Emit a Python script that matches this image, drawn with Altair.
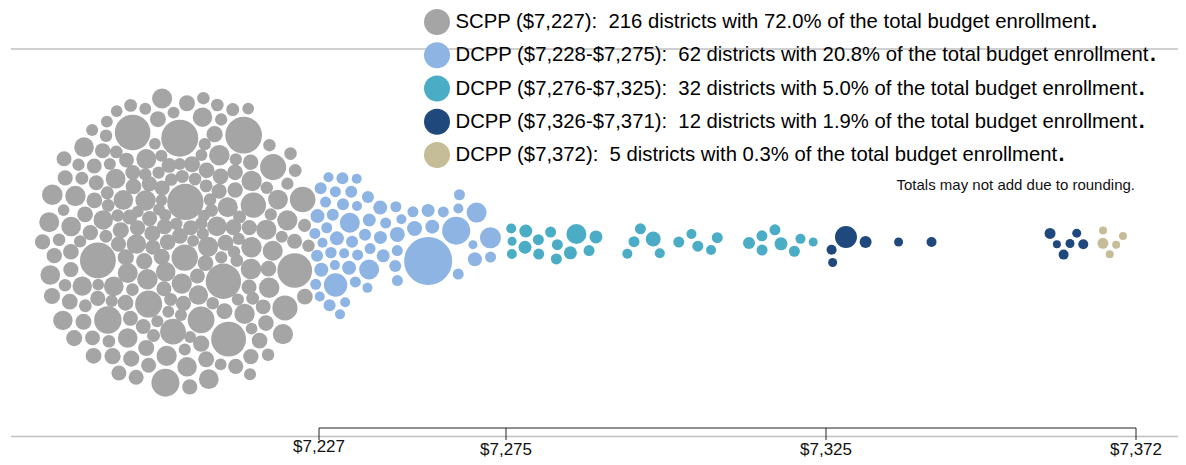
import numpy as np
import pandas as pd
import altair as alt

# ---------------- data ----------------
tick_values = [7227, 7275, 7325, 7372]
tick_labels = ["$7,227", "$7,275", "$7,325", "$7,372"]

group_labels = ["SCPP ($7,227)", "DCPP ($7,228-$7,275)", "DCPP ($7,276-$7,325)",
                "DCPP ($7,326-$7,371)", "DCPP ($7,372)"]
district_counts = [216, 62, 32, 12, 5]
enrollment_share = [72.0, 20.8, 5.0, 1.9, 0.3]
group_colors = ["#A5A5A5", "#8DB4E2", "#4BACC6", "#1F497D", "#C4BD97"]
footnote = "Totals may not add due to rounding."

# SCPP: every district at $7,227, estimated enrollments
scpp_amount = 7227
scpp_enrollment = [
    28000, 4800, 3200, 8600, 5200, 3000, 5500, 3300, 8300, 4900, 3500, 14800,
    5300, 3100, 8900, 3400, 4700, 5400, 2900, 8200, 5000, 3200, 5600, 3600,
    8700, 4800, 3300, 15600, 3100, 5200, 8100, 3400, 4900, 3000, 5400, 8500,
    3200, 26500, 5000, 3500, 4700, 8800, 3300, 5500, 3100, 8000, 4800, 3600,
    5300, 2900, 9000, 4900, 3400, 14100, 5200, 3200, 8300, 4700, 3300, 5600,
    8600, 3000, 5000, 3500, 27400, 4800, 3100, 8200, 5400, 3400, 4900, 3200,
    8100, 5200, 3600, 4700, 8900, 2900, 5500, 15300, 3300, 5000, 3100, 8500,
    4800, 3500, 5300, 3000, 8300, 4900, 3200, 29200, 5400, 3400, 8700, 4700,
    3300, 5200, 8000, 3100, 5600, 3600, 13600, 4800, 2900, 8800, 5000, 3200,
    5500, 3400, 8600, 4900, 3000, 25800, 5300, 3300, 8200, 4700, 3500, 5200,
    9000, 3100, 4800, 3200, 16000, 5400, 2900, 8100, 5000, 3600, 4900, 8500,
    3300, 5600, 3000, 5200, 8300, 3400, 27000, 4700, 3200, 5300, 8700, 3100,
    4800, 3500, 8000, 5000, 2900, 14400, 5500, 3300, 8900, 4900, 3200, 5400,
    3600, 8600, 4700, 3000, 5200, 3400, 28600, 4800, 8200, 3100, 5300, 3300,
    4900, 8800, 3500, 5600, 2900, 13400, 5000, 3200, 8100, 4700, 3600, 5400,
    3000, 5200, 8500, 3300, 4800, 3100, 25600, 5500, 3400, 8300, 4900, 3200,
    5300, 3500, 8700, 5000, 2900, 16600, 4700, 3300, 8000, 5400, 3100, 9000,
    3400, 4800, 3000, 5200, 8200, 3600, 4900, 3200, 13900, 5500, 8600, 3300,
]

dcpp1_amount = [
    7228, 7231, 7236, 7228, 7231, 7228, 7228, 7232, 7235, 7239,
    7244, 7247, 7251, 7256, 7262, 7228, 7228, 7232, 7235, 7238,
    7242, 7247, 7255, 7263, 7267, 7271, 7271, 7266, 7231, 7235,
    7238, 7243, 7246, 7246, 7234, 7229, 7240, 7244, 7248, 7263,
    7262, 7267, 7259, 7255, 7251, 7247, 7241, 7238, 7233, 7229,
    7236, 7231, 7234, 7231, 7228, 7228, 7229, 7230, 7232, 7228,
    7228, 7233,
]
dcpp1_enrollment = [
    2760, 11640, 2125, 2125, 3060, 4165, 4165, 3060, 3060, 8500,
    2570, 2570, 4780, 4165, 16660, 3060, 2570, 3060, 2125, 2125,
    4165, 4780, 48960, 2570, 4165, 2570, 9370, 1720, 2570, 2570,
    3060, 3590, 3060, 2570, 8500, 3060, 3060, 3590, 2125, 2125,
    2570, 8500, 2570, 3590, 2570, 2570, 2570, 3590, 4165, 2125,
    2570, 4165, 3060, 2125, 2570, 2125, 2125, 2570, 2125, 3060,
    2570, 2125,
]

dcpp2_amount = [7276, 7276, 7276, 7278, 7278, 7280, 7280, 7282, 7283, 7285,
                7286, 7288, 7289, 7283, 7294, 7296, 7299, 7295, 7298, 7302,
                7304, 7307, 7305, 7308, 7313, 7315, 7318, 7315, 7317, 7320,
                7321, 7323]
dcpp2_enrollment = [1720, 2125, 2125, 3590, 3590, 2570, 2570, 2570, 2570, 3590,
                    8500, 2570, 3590, 2570, 2125, 2570, 2125, 2570, 4780, 2570,
                    2125, 2125, 2570, 2570, 3060, 2570, 3590, 2570, 2570, 2570,
                    2125, 1720]

dcpp3_amount = [7326, 7326, 7328, 7331, 7336, 7341, 7360, 7359, 7362, 7364, 7363, 7361]
dcpp3_enrollment = [2125, 1720, 10285, 3060, 1720, 2125, 1360, 2570, 1720, 2125, 1720, 2125]

dcpp4_amount = [7367, 7368, 7370, 7369, 7367]
dcpp4_enrollment = [2570, 1360, 1360, 1360, 1360]

# ---------------- geometry / styling ----------------
W, H = 1170, 449
PX_RANGE = [311, 498, 818, 1128]          # pixel range of the piecewise x scale
SCPP_CENTER = 170.0                        # SCPP cluster is drawn as its own blob
MID_Y = 234.0
ENROLL_PER_PX2 = 85.0                      # enrollment per squared pixel of radius
FONT = "Liberation Sans"


def to_px(v):
    v = np.asarray(v, float)
    d = np.array(tick_values, float)
    r = np.array(PX_RANGE, float)
    out = np.interp(v, d, r)
    lo, hi = v < d[0], v > d[-1]
    out[lo] = r[0] + (v[lo] - d[0]) * (r[1] - r[0]) / (d[1] - d[0])
    out[hi] = r[-1] + (v[hi] - d[-1]) * (r[-1] - r[-2]) / (d[-1] - d[-2])
    return out


def to_val(p):
    p = np.asarray(p, float)
    d = np.array(tick_values, float)
    r = np.array(PX_RANGE, float)
    out = np.interp(p, r, d)
    lo, hi = p < r[0], p > r[-1]
    out[lo] = d[0] + (p[lo] - r[0]) * (d[1] - d[0]) / (r[1] - r[0])
    out[hi] = d[-1] + (p[hi] - r[-1]) * (d[-1] - d[-2]) / (r[-1] - r[-2])
    return out


# ---------------- assemble table ----------------
amount_lists = [[scpp_amount] * len(scpp_enrollment), dcpp1_amount, dcpp2_amount,
                dcpp3_amount, dcpp4_amount]
enroll_lists = [scpp_enrollment, dcpp1_enrollment, dcpp2_enrollment,
                dcpp3_enrollment, dcpp4_enrollment]
records = []
for g, am, en in zip(group_labels, amount_lists, enroll_lists):
    for k, (a, e) in enumerate(zip(am, en)):
        records.append({"group": g, "amount": a, "enrollment": e, "k": k})
df = pd.DataFrame(records)

# ---------------- beeswarm / packing layout (collision relaxation) ----------------
is_scpp = (df["group"] == group_labels[0]).to_numpy()
rad = np.sqrt(df["enrollment"].to_numpy(float) / ENROLL_PER_PX2)
k = df["k"].to_numpy(float)
n = len(df)
tx = np.where(is_scpp, SCPP_CENTER, to_px(df["amount"].to_numpy(float)))
ty = np.full(n, MID_Y)
kx = np.where(is_scpp, 0.032, 0.3)
ky = np.where(is_scpp, 0.026, 0.01)
ang = k * 2.3999632
x = np.where(is_scpp, SCPP_CENTER + 10 * np.sqrt(k) * np.cos(ang), tx + 2 * np.cos(ang))
y = np.where(is_scpp, MID_Y + 10 * np.sqrt(k) * np.sin(ang), MID_Y + 6 * np.sin(ang))

pad = 3.3
m2 = rad ** 2
wgt = m2[None, :] / (m2[:, None] + m2[None, :])
need = rad[:, None] + rad[None, :] + pad


def collide(x, y, strength):
    dx = x[:, None] - x[None, :]
    dy = y[:, None] - y[None, :]
    dist = np.hypot(dx, dy)
    np.fill_diagonal(dist, np.inf)
    ov = need - dist
    with np.errstate(invalid="ignore", divide="ignore"):
        f = np.where(ov > 0, strength * ov * wgt / np.maximum(dist, 1e-6), 0.0)
    return x + (f * dx).sum(1), y + (f * dy).sum(1)


for it in range(600):
    x = x + (tx - x) * kx
    y = y + (ty - y) * ky
    for _ in range(3):
        x, y = collide(x, y, 0.6)
for it in range(60):
    x, y = collide(x, y, 0.5)

df["xval"] = to_val(x)
df["py"] = y

# ---------------- chart ----------------
x_scale = alt.Scale(domain=tick_values, range=PX_RANGE, nice=False, zero=False)
y_scale = alt.Scale(domain=[0, H], range=[0, H], nice=False, zero=False)
size_max = 50000
size_scale = alt.Scale(domain=[0, size_max], range=[0, 4 * size_max / ENROLL_PER_PX2])

dummy = pd.DataFrame({"d": [0]})
ticks_df = pd.DataFrame({"tick": tick_values, "label": tick_labels})
span_df = pd.DataFrame({"lo": [min(tick_values)], "hi": [max(tick_values)]})

top_line = alt.Chart(dummy).mark_rule(color="#C0C0C0", strokeWidth=1.5).encode(
    x=alt.value(3), x2=alt.value(W), y=alt.value(41))
base_line = alt.Chart(dummy).mark_rule(color="#C0C0C0", strokeWidth=1.5).encode(
    x=alt.value(3), x2=alt.value(W), y=alt.value(428.5))
bracket = alt.Chart(span_df).mark_rule(color="#222222", strokeWidth=1).encode(
    x=alt.X("lo:Q", scale=x_scale, axis=None), x2="hi:Q", y=alt.value(420))
tick_marks = alt.Chart(ticks_df).mark_rule(color="#222222", strokeWidth=1).encode(
    x=alt.X("tick:Q", scale=x_scale, axis=None), y=alt.value(420), y2=alt.value(432))
first_label = alt.Chart(ticks_df).transform_filter(
    alt.datum.tick == tick_values[0]).mark_text(
    font=FONT, fontSize=17, align="center", baseline="middle", color="#111111").encode(
    x=alt.X("tick:Q", scale=x_scale, axis=None), y=alt.value(439), text="label:N")
other_labels = alt.Chart(ticks_df).transform_filter(
    alt.datum.tick != tick_values[0]).mark_text(
    font=FONT, fontSize=17, align="center", baseline="middle", color="#111111").encode(
    x=alt.X("tick:Q", scale=x_scale, axis=None), y=alt.value(441.5), text="label:N")

bubbles = alt.Chart(df).mark_circle(opacity=1).encode(
    x=alt.X("xval:Q", scale=x_scale, axis=None),
    y=alt.Y("py:Q", scale=y_scale, axis=None),
    size=alt.Size("enrollment:Q", scale=size_scale, legend=None),
    color=alt.Color("group:N", scale=alt.Scale(domain=group_labels, range=group_colors),
                    legend=None),
)

# legend
ARIAL = {" ": 278, "\u00a0": 278, "(": 333, ")": 333, "$": 556, ",": 278, "-": 333,
         ":": 278, "%": 889, ".": 278, "S": 667, "C": 722, "P": 667, "D": 722,
         "a": 556, "b": 556, "c": 500, "d": 556, "e": 556, "f": 278, "g": 556,
         "h": 556, "i": 222, "l": 222, "m": 833, "n": 556, "o": 556, "r": 333,
         "s": 500, "t": 278, "u": 556, "w": 722, "y": 500}


def text_width(s, size):
    return sum(ARIAL.get(ch, 556) for ch in s) * size / 1000.0


LEG_FS = 20.3
LEG_X = 447.5
legend_layers = []
for i, (lab, cnt, sh, col) in enumerate(zip(group_labels, district_counts,
                                             enrollment_share, group_colors)):
    yy = 14 + 33.25 * i
    txt = f"{lab}: \u00a0{cnt} districts with {sh:.1f}% of the total budget enrollment"
    legend_layers.append(alt.Chart(dummy).mark_circle(size=676, opacity=1, color=col).encode(
        x=alt.value(429), y=alt.value(yy)))
    legend_layers.append(alt.Chart(dummy).mark_text(
        font=FONT, fontSize=LEG_FS, align="left", baseline="middle", color="black").encode(
        x=alt.value(LEG_X), y=alt.value(yy), text=alt.value(txt)))
    legend_layers.append(alt.Chart(dummy).mark_text(
        font=FONT, fontSize=LEG_FS + 1, fontWeight="bold", align="left", baseline="middle",
        color="black").encode(
        x=alt.value(LEG_X + text_width(txt, LEG_FS) + 0.5), y=alt.value(yy), text=alt.value(".")))

note = alt.Chart(dummy).mark_text(
    font=FONT, fontSize=15, align="right", baseline="middle", color="#111111").encode(
    x=alt.value(1127), y=alt.value(177), text=alt.value(footnote))

chart = alt.layer(top_line, base_line, bracket, tick_marks, bubbles, first_label,
                  other_labels, *legend_layers, note).properties(
    width=W, height=H, padding=0,
    autosize=alt.AutoSizeParams(type="none"),
).configure_view(stroke=None)

chart.save("out.html", embed_options={"renderer": "svg", "actions": False})
